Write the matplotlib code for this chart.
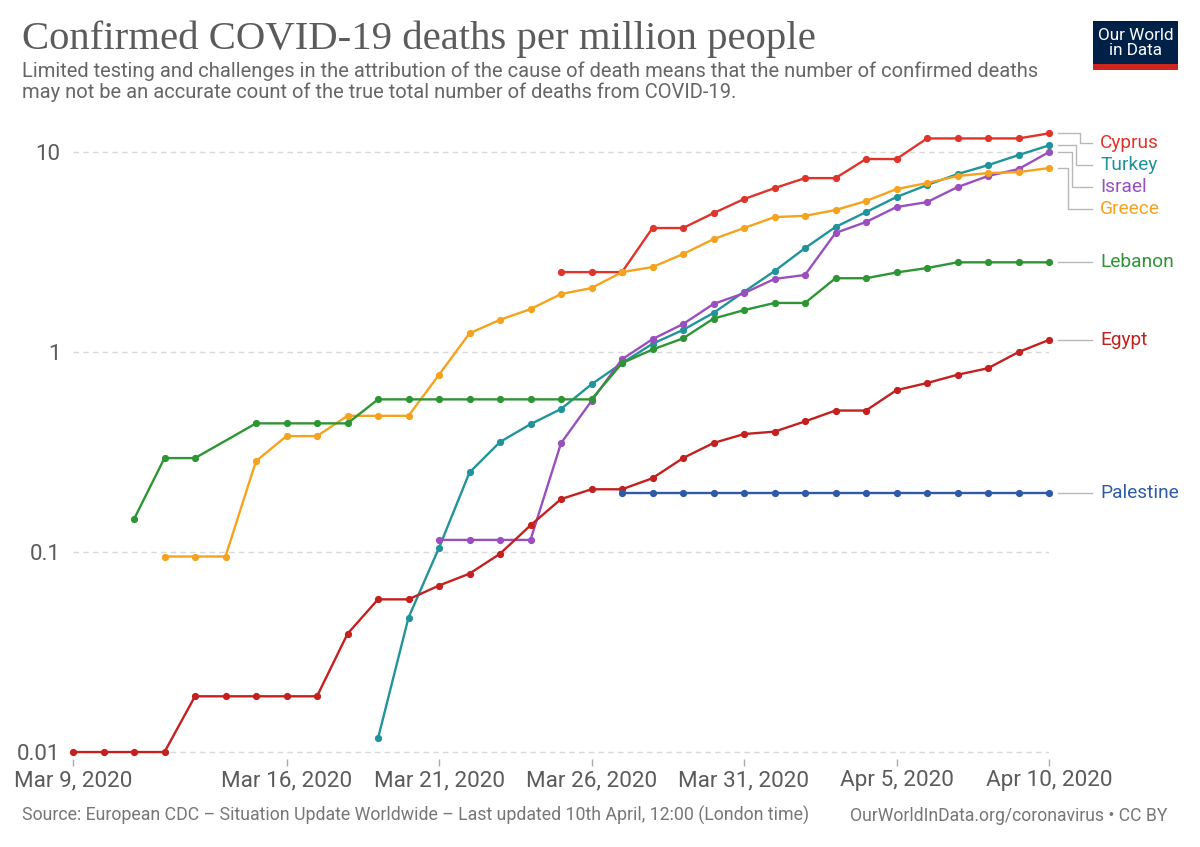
"""Confirmed COVID-19 deaths per million people - OWID style chart"""
import numpy as np
import pandas as pd
import matplotlib
matplotlib.use("Agg")
import matplotlib.pyplot as plt
import matplotlib.dates as mdates
from matplotlib.patches import Rectangle
from matplotlib.lines import Line2D
from matplotlib.ticker import FixedLocator, FixedFormatter

# daily values, Mar 9 .. Apr 10 2020 (None = no data)
dates = pd.date_range("2020-03-09", "2020-04-10", freq="D")

countries = ["Cyprus", "Turkey", "Israel", "Greece", "Lebanon", "Egypt", "Palestine"]
colors = ["#e0342b", "#21939b", "#9a4fbf", "#f5a31f", "#2e9535", "#c3201f", "#2f5ba6"]

cyprus = [None] * 16 + [2.51, 2.51, 2.51, 4.17, 4.17, 4.95, 5.82, 6.6, 7.41, 7.41,
                        9.23, 9.23, 11.7, 11.7, 11.7, 11.7, 12.4]
turkey = [None] * 10 + [0.0117, 0.047, 0.105, 0.25, 0.355, 0.436, 0.519, 0.69, 0.88,
                        1.10, 1.29, 1.57, 2.0, 2.54, 3.31, 4.22, 5.01, 5.96, 6.84,
                        7.76, 8.6, 9.66, 10.8]
israel = [None] * 12 + [0.115, 0.115, 0.115, 0.115, 0.35, 0.57, 0.92, 1.16, 1.38,
                        1.74, 1.97, 2.32, 2.43, 3.94, 4.47, 5.31, 5.62, 6.68, 7.59,
                        8.22, 10.0]
greece = [None] * 3 + [0.095, 0.095, 0.095, 0.285, 0.38, 0.38, 0.48, 0.48, 0.48,
                       0.77, 1.24, 1.45, 1.64, 1.95, 2.09, 2.51, 2.66, 3.09, 3.67,
                       4.17, 4.73, 4.8, 5.13, 5.69, 6.53, 7.0, 7.59, 7.85, 7.94, 8.32]
lebanon = [None, None, 0.146, 0.295, 0.295, None, 0.44, 0.44, 0.44, 0.44,
           0.58, 0.58, 0.58, 0.58, 0.58, 0.58, 0.58, 0.58,
           0.88, 1.03, 1.17, 1.47, 1.62, 1.76, 1.76, 2.34, 2.34, 2.5, 2.63,
           2.81, 2.81, 2.81, 2.81]
egypt = [0.01, 0.01, 0.01, 0.01, 0.019, 0.019, 0.019, 0.019, 0.019, 0.039, 0.058,
         0.058, 0.068, 0.078, 0.098, 0.136, 0.184, 0.206, 0.206, 0.234, 0.295,
         0.351, 0.389, 0.40, 0.45, 0.51, 0.51, 0.645, 0.70, 0.77, 0.83, 1.0, 1.15]
palestine = [None] * 18 + [0.197] * 15

series = [cyprus, turkey, israel, greece, lebanon, egypt, palestine]

tick_dates = ["2020-03-09", "2020-03-16", "2020-03-21", "2020-03-26",
              "2020-03-31", "2020-04-05", "2020-04-10"]
tick_labels = ["Mar 9, 2020", "Mar 16, 2020", "Mar 21, 2020", "Mar 26, 2020",
               "Mar 31, 2020", "Apr 5, 2020", "Apr 10, 2020"]
y_ticks = [0.01, 0.1, 1, 10]
y_labels = ["0.01", "0.1", "1", "10"]

SANS = "Roboto"
GREY = "#5b5b5b"

W, H = 1200, 847
fig = plt.figure(figsize=(W / 100, H / 100), dpi=100)
ax = fig.add_axes([73 / W, 88 / H, (1049 - 73) / W, (721 - 88) / H])

for vals, col in zip(series, colors):
  s = pd.Series(vals, index=dates, dtype=float).dropna()
  ax.plot(s.index, s.values, color=col, lw=1.7, marker="o", ms=4.2,
          clip_on=False, zorder=3)

ax.set_yscale("log")
ax.set_ylim(0.00923, 13.5)
ax.set_xlim(dates[0], dates[-1])

ax.yaxis.set_major_locator(FixedLocator(y_ticks))
ax.yaxis.set_major_formatter(FixedFormatter(y_labels))
ax.yaxis.set_minor_locator(FixedLocator([]))
ax.tick_params(axis="y", length=0, pad=9, labelsize=16, labelcolor=GREY)
ax.yaxis.grid(True, color="#d9d9d9", lw=1, ls=(0, (4, 3)))

xt = pd.to_datetime(tick_dates)
ax.set_xticks(xt)
ax.set_xticklabels(tick_labels)
ax.tick_params(axis="x", length=5, width=1, color="#aaaaaa", pad=3,
               labelsize=16.2, labelcolor=GREY)
for lab in ax.get_xticklabels() + ax.get_yticklabels():
  lab.set_family(SANS)

for sp in ax.spines.values():
  sp.set_visible(False)

# end labels with connectors (display coordinates)
inv = fig.transFigure.inverted()
ax_top = ax.transAxes.transform((0, 1))[1]
ends = []
for name, vals, col in zip(countries, series, colors):
  s = pd.Series(vals, index=dates, dtype=float).dropna()
  px = ax.transData.transform((mdates.date2num(s.index[-1]), s.values[-1]))
  ends.append((px[1], px[0], name, col))
ends.sort(key=lambda e: -e[0])

prev = None
placed = []
for y_end, x_end, name, col in ends:
  y_lab = min(y_end, ax_top - 17)
  if prev is not None:
    y_lab = min(y_lab, prev - 22)
  placed.append((y_end, y_lab, x_end, name, col))
  prev = y_lab

rank = 0
for y_end, y_lab, x_end, name, col in placed:
  x0 = x_end + 9
  x2 = x_end + 43
  if abs(y_lab - y_end) > 0.5:
    xe = x_end + 31 - 4 * rank
    rank += 1
    pts = [(x0, y_end), (xe, y_end), (xe, y_lab), (x2, y_lab)]
  else:
    pts = [(x0, y_end), (x2, y_lab)]
  fpts = inv.transform(pts)
  fig.add_artist(Line2D(fpts[:, 0], fpts[:, 1], color="#b8b8b8", lw=1,
                        transform=fig.transFigure))
  tx, ty = inv.transform((x_end + 51, y_lab))
  fig.text(tx, ty, name, color=col, fontsize=13.8, family=SANS, va="center")

# title and subtitle
fig.text(22 / W, 1 - 49 / H, "Confirmed COVID-19 deaths per million people",
         family="Liberation Serif", fontsize=29.3, color=GREY, va="baseline")
fig.text(22 / W, 1 - 77 / H,
         "Limited testing and challenges in the attribution of the cause of death "
         "means that the number of confirmed deaths",
         family=SANS, fontsize=14.5, color="#666666", va="baseline")
fig.text(22 / W, 1 - 98 / H,
         "may not be an accurate count of the true total number of deaths from COVID-19.",
         family=SANS, fontsize=14.5, color="#666666", va="baseline")

# footer
fig.text(22 / W, 1 - 821 / H,
         "Source: European CDC \u2013 Situation Update Worldwide \u2013 Last updated "
         "10th April, 12:00 (London time)",
         family=SANS, fontsize=12.8, color="#777777", va="baseline")
fig.text(1168 / W, 1 - 821 / H, "OurWorldInData.org/coronavirus \u2022 CC BY",
         family=SANS, fontsize=12.7, color="#777777", va="baseline", ha="right")

# logo
fig.add_artist(Rectangle((1093 / W, 1 - 64 / H), 85 / W, 43 / H,
                         transform=fig.transFigure, color="#002147", lw=0))
fig.add_artist(Rectangle((1093 / W, 1 - 70 / H), 85 / W, 6 / H,
                         transform=fig.transFigure, color="#ce261e", lw=0))
fig.text(1135.5 / W, 1 - 43 / H, "Our World\nin Data", color="white",
         family=SANS, fontsize=12.3, ha="center", va="center", linespacing=1.0)

fig.savefig("out.png", dpi=100)
